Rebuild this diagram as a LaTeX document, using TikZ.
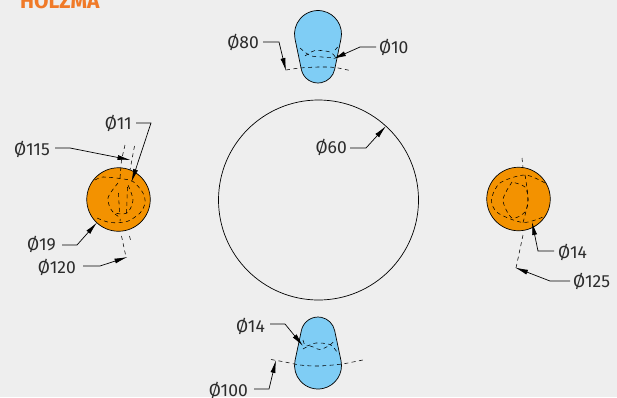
\documentclass[tikz,border=0pt]{standalone}
\usepackage{fontspec}
\setmainfont{Fira Sans}
\usetikzlibrary{calc,arrows.meta}
\definecolor{paleGrey}{HTML}{EEEEEE}
\definecolor{ballOrange}{HTML}{F39200}
\definecolor{capBlue}{HTML}{7FCDF5}
\definecolor{titleOrange}{HTML}{F07A28}
\definecolor{inkGrey}{HTML}{2B2B2B}

\begin{document}
\begin{tikzpicture}[x=1pt,y=-1pt,font=\fontsize{17.5}{19}\selectfont]

\tikzset{outline/.style={draw=black,line width=.7pt},
hidden/.style={draw=black,line width=.55pt,dash pattern=on 4pt off 3.4pt},
dimlabel/.style={text=inkGrey,inner sep=0pt},
leader/.style={draw=black,line width=.7pt,-{Latex[length=13pt,width=5pt]}}}

% Background and title
\clip (0,0) rectangle (617,397);
\fill[paleGrey] (0,0) rectangle (617,397);
\node[font=\fontsize{21}{22}\bfseries\selectfont,text=titleOrange,anchor=base west,inner sep=0pt] (title) at (20,8) {HOLZMA};

% Large circle and the two balls
\node[outline,shape=circle,minimum size=200pt,inner sep=0pt] (mainCircle) at (318.5,200) {};
\node[outline,fill=ballOrange,shape=circle,minimum size=63.5pt,inner sep=0pt] (ballLeft) at (118.5,199.5) {};
\node[outline,fill=ballOrange,shape=circle,minimum size=63.5pt,inner sep=0pt] (ballRight) at (518.5,199) {};

% Blue caps
\draw[outline,fill=capBlue] (341,38.8) arc[start angle=-11.7,end angle=191.7,radius=23.5pt] -- (301.35,69.45) arc[start angle=191.7,end angle=348.3,radius=17pt] -- cycle;
\draw[outline,fill=capBlue] (341,360.65) arc[start angle=11.9,end angle=-191.9,radius=23.5pt] -- (301.37,330.5) arc[start angle=168.1,end angle=11.9,radius=17pt] -- cycle;

% Hidden lines, top cap
\draw[hidden] plot[smooth] coordinates {(286,70) (300,68) (318,67) (335,67.5) (352,71)};
\draw[hidden] plot[smooth] coordinates {(300,48) (310,55.5) (322,57) (332,57.5)};
\draw[hidden] plot[smooth] coordinates {(305,56) (315,50.5) (330,52) (336,58)};
\draw[hidden] (335,50) -- (339.5,45);

% Hidden lines, bottom cap
\draw[hidden] plot[smooth] coordinates {(271,359.5) (285,362) (300,365) (318,366) (342,364) (365,359.5)};
\draw[hidden] plot[smooth] coordinates {(303,340) (306,346) (316,343) (330,344.5) (337,352)};
\draw[hidden] plot[smooth] coordinates {(303,349) (310,346) (320,349.5) (330,345) (334,341)};

% Hidden lines, left ball
\draw[hidden] plot[smooth] coordinates {(95,180) (103,177) (120,178.5) (133,181.5) (143,193) (145,203) (140,213) (127,221.5) (110,222.5) (97,218)};
\draw[hidden] plot[smooth] coordinates {(118,183) (108,198) (113,212) (127,213) (133,200) (128,185)};
\draw[hidden] (118.5,193) -- (119.5,213);
\draw[hidden] (127.5,187) -- (126.5,213);
\draw[hidden] plot[smooth] coordinates {(115,214) (120,218) (120,221)};
\draw[hidden] (125,145) -- (121.5,160) -- (120,178);
\draw[hidden] (134.5,146) -- (130,170);
\draw[hidden] (121.5,236) -- (126,257);
\draw[hidden] (129.5,236) -- (131,242);

% Hidden lines, right ball
\draw[hidden] plot[smooth] coordinates {(545,183) (525,175) (500,183) (491.5,200) (498,213) (523,222.5) (543,217)};
\draw[hidden] plot[smooth] coordinates {(512,182) (503,200) (512,218) (525,212) (528,200) (525,187) (512,182)};
\draw[hidden] plot[smooth] coordinates {(525,175) (528,200) (523,222.5)};
\draw[hidden] (522,158) -- (523,168);
\draw[hidden] (523,235) -- (516,268);

% Dimension labels
\node[dimlabel,anchor=east] (d80) at (259,42) {Ø80};
\node[dimlabel,anchor=west] (d10) at (379,47) {Ø10};
\node[dimlabel,anchor=east] (d60) at (347,147) {Ø60};
\node[dimlabel,anchor=east] (d11) at (132,123) {Ø11};
\node[dimlabel,anchor=east] (d115) at (50,149) {Ø115};
\node[dimlabel,anchor=east] (d19) at (56,244) {Ø19};
\node[dimlabel,anchor=east] (d120) at (76,267) {Ø120};
\node[dimlabel,anchor=west] (d14r) at (558,252) {Ø14};
\node[dimlabel,anchor=west] (d125) at (573,281) {Ø125};
\node[dimlabel,anchor=east] (d14b) at (265,326) {Ø14};
\node[dimlabel,anchor=east] (d100) at (248,390) {Ø100};

% Arrow tips
\coordinate (t80) at (286,71);
\coordinate (t10) at (333,59);
\coordinate (t60) at (386,126);
\coordinate (t11) at (131.5,182);
\coordinate (t115) at (130.5,160);
\coordinate (t19) at (97,222.5);
\coordinate (t120) at (127.5,257);
\coordinate (t14r) at (532,222);
\coordinate (t125) at (515,267.5);
\coordinate (t14b) at (303,346);
\coordinate (t100) at (276,360);

% Leaders
\draw[leader] ($(d80.east)+(4,0)$) -- ++(16,0) -- (t80);
\draw[leader] ($(d10.west)+(-3,0)$) -- ++(-16,0) -- (t10);
\draw[leader] ($(d60.east)+(3,1)$) -- ++(16,0) -- (t60);
\draw[leader] ($(d11.east)+(4,0)$) -- ++(15,0) -- (t11);
\draw[leader] ($(d115.east)+(5,-1)$) -- ++(15,0) -- (t115);
\draw[leader] ($(d19.east)+(6,1)$) -- ++(15,0) -- (t19);
\draw[leader] ($(d120.east)+(7,-1)$) -- ++(17,0) -- (t120);
\draw[leader] ($(d14r.west)+(-4,-1)$) -- ++(-16,0) -- (t14r);
\draw[leader] ($(d125.west)+(-3,0)$) -- ++(-20,0) -- (t125);
\draw[leader] ($(d14b.east)+(5,-2)$) -- ++(15,0) -- (t14b);
\draw[leader] ($(d100.east)+(6,-1)$) -- ++(15,0) -- (t100);

\end{tikzpicture}
\end{document}
